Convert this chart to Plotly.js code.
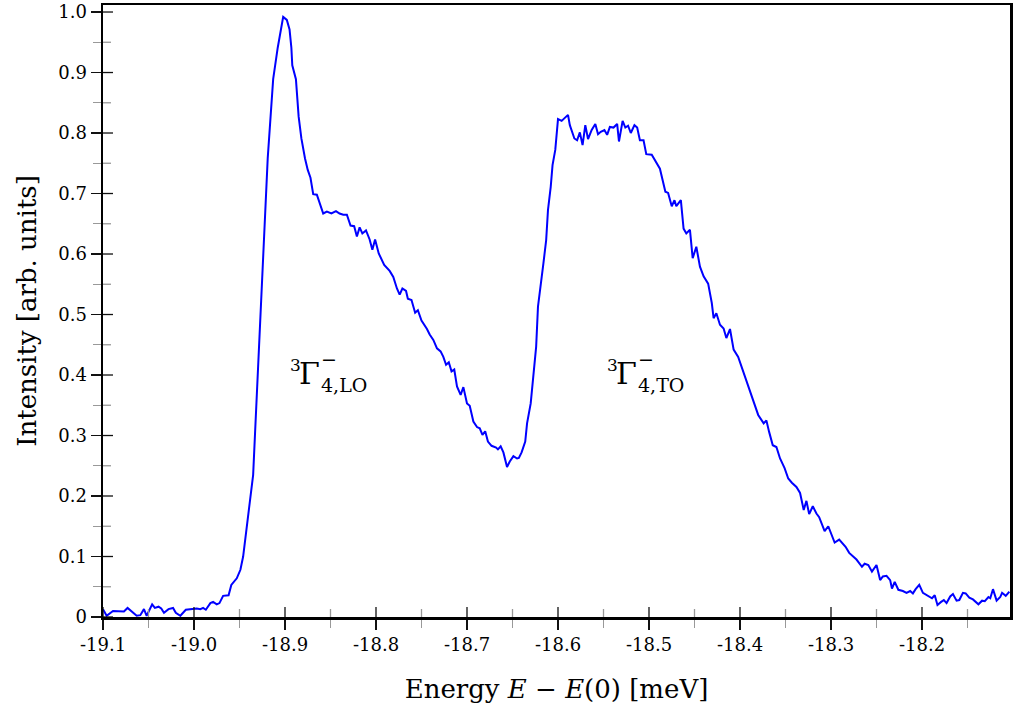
<!DOCTYPE html>
<html><head><meta charset="utf-8">
<script src="https://cdn.plot.ly/plotly-3.0.1.min.js"></script>
<style>html,body{margin:0;padding:0;background:#fff}#chart{width:1013px;height:713px}</style>
</head><body><div id="chart"></div>
<script>
const energy = [
-19.100,-19.096,-19.089,-19.079,-19.077,-19.073,-19.063,-19.059,-19.055,-19.052,
-19.046,-19.043,-19.039,-19.036,-19.033,-19.028,-19.023,-19.020,-19.015,-19.009,
-19.001,-18.997,-18.993,-18.990,-18.987,-18.982,-18.979,-18.975,-18.972,-18.968,
-18.962,-18.959,-18.953,-18.949,-18.946,-18.943,-18.940,-18.935,-18.933,-18.931,
-18.927,-18.923,-18.919,-18.913,-18.908,-18.902,-18.898,-18.895,-18.893,-18.892,
-18.888,-18.885,-18.882,-18.878,-18.875,-18.872,-18.869,-18.865,-18.862,-18.858,
-18.854,-18.849,-18.844,-18.840,-18.836,-18.832,-18.828,-18.824,-18.821,-18.818,
-18.815,-18.811,-18.807,-18.804,-18.801,-18.797,-18.791,-18.785,-18.781,-18.777,
-18.774,-18.771,-18.767,-18.765,-18.761,-18.757,-18.754,-18.750,-18.744,-18.741,
-18.737,-18.733,-18.729,-18.726,-18.723,-18.720,-18.717,-18.714,-18.711,-18.707,
-18.704,-18.700,-18.697,-18.693,-18.689,-18.686,-18.683,-18.680,-18.677,-18.673,
-18.668,-18.666,-18.663,-18.660,-18.656,-18.653,-18.649,-18.645,-18.643,-18.640,
-18.636,-18.634,-18.630,-18.627,-18.624,-18.622,-18.619,-18.616,-18.613,-18.611,
-18.608,-18.606,-18.603,-18.601,-18.600,-18.596,-18.593,-18.589,-18.587,-18.584,
-18.582,-18.579,-18.576,-18.573,-18.570,-18.567,-18.563,-18.559,-18.556,-18.553,
-18.549,-18.546,-18.543,-18.539,-18.535,-18.533,-18.529,-18.526,-18.523,-18.520,
-18.516,-18.513,-18.510,-18.506,-18.503,-18.497,-18.493,-18.488,-18.482,-18.479,
-18.475,-18.472,-18.470,-18.465,-18.462,-18.459,-18.455,-18.452,-18.448,-18.444,
-18.440,-18.435,-18.431,-18.429,-18.426,-18.422,-18.418,-18.415,-18.411,-18.407,
-18.402,-18.396,-18.393,-18.385,-18.380,-18.374,-18.371,-18.368,-18.364,-18.360,
-18.356,-18.351,-18.347,-18.343,-18.338,-18.334,-18.330,-18.327,-18.324,-18.320,
-18.316,-18.313,-18.309,-18.307,-18.303,-18.300,-18.296,-18.291,-18.286,-18.284,
-18.280,-18.276,-18.272,-18.266,-18.263,-18.259,-18.255,-18.250,-18.246,-18.243,
-18.239,-18.235,-18.233,-18.230,-18.226,-18.221,-18.217,-18.213,-18.210,-18.207,
-18.203,-18.199,-18.194,-18.189,-18.186,-18.183,-18.179,-18.176,-18.173,-18.169,
-18.166,-18.162,-18.159,-18.155,-18.152,-18.148,-18.144,-18.138,-18.134,-18.131,
-18.127,-18.125,-18.122,-18.118,-18.114,-18.112,-18.108,-18.104
];
const intensity = [
0.013,0.002,0.010,0.010,0.009,0.015,0.002,0.003,0.013,0.002,
0.021,0.015,0.017,0.014,0.007,0.013,0.015,0.007,0.002,0.012,
0.013,0.014,0.013,0.015,0.012,0.023,0.025,0.021,0.023,0.035,
0.036,0.053,0.064,0.078,0.100,0.135,0.170,0.235,0.301,0.366,
0.497,0.628,0.758,0.889,0.941,0.992,0.987,0.971,0.941,0.912,
0.889,0.827,0.791,0.758,0.739,0.726,0.699,0.698,0.686,0.667,
0.670,0.667,0.671,0.667,0.665,0.665,0.647,0.646,0.629,0.644,
0.634,0.639,0.624,0.607,0.624,0.601,0.582,0.572,0.562,0.543,
0.533,0.543,0.539,0.526,0.524,0.503,0.507,0.490,0.476,0.467,
0.458,0.444,0.439,0.430,0.417,0.421,0.406,0.409,0.381,0.367,
0.380,0.353,0.349,0.323,0.314,0.312,0.301,0.307,0.290,0.283,
0.280,0.277,0.282,0.272,0.248,0.257,0.266,0.262,0.263,0.272,
0.290,0.320,0.353,0.397,0.447,0.513,0.546,0.585,0.623,0.673,
0.711,0.747,0.772,0.800,0.823,0.820,0.824,0.830,0.813,0.800,
0.791,0.788,0.801,0.780,0.813,0.790,0.805,0.815,0.798,0.802,
0.805,0.797,0.810,0.809,0.815,0.786,0.820,0.809,0.812,0.800,
0.813,0.809,0.788,0.788,0.765,0.764,0.753,0.741,0.703,0.701,
0.679,0.689,0.679,0.689,0.642,0.634,0.640,0.593,0.612,0.579,
0.563,0.551,0.519,0.494,0.502,0.483,0.477,0.461,0.476,0.442,
0.430,0.403,0.392,0.353,0.334,0.320,0.325,0.306,0.284,0.281,
0.262,0.246,0.229,0.222,0.215,0.205,0.177,0.192,0.170,0.183,
0.171,0.165,0.148,0.142,0.150,0.138,0.123,0.128,0.119,0.116,
0.106,0.100,0.095,0.083,0.088,0.086,0.075,0.086,0.061,0.067,
0.068,0.061,0.047,0.058,0.045,0.043,0.040,0.043,0.039,0.046,
0.053,0.040,0.036,0.031,0.036,0.020,0.025,0.028,0.023,0.034,
0.038,0.027,0.028,0.040,0.039,0.032,0.029,0.021,0.027,0.026,
0.033,0.031,0.046,0.027,0.033,0.040,0.035,0.042
];
const xTickVals = [-19.1,-19.0,-18.9,-18.8,-18.7,-18.6,-18.5,-18.4,-18.3,-18.2];
const xTickText = ['-19.1','-19.0','-18.9','-18.8','-18.7','-18.6','-18.5','-18.4','-18.3','-18.2'];
const yTickVals = [0,0.1,0.2,0.3,0.4,0.5,0.6,0.7,0.8,0.9,1.0];
const yTickText = ['0','0.1','0.2','0.3','0.4','0.5','0.6','0.7','0.8','0.9','1.0'];
const xTitle = 'Energy <i>E</i> − <i>E</i>(0) [meV]';
const yTitle = 'Intensity [arb. units]';
const peakLabels = [
  {sup:'3', main:'Γ', charge:'−', sub:'4,LO', x:-18.8967},
  {sup:'3', main:'Γ', charge:'−', sub:'4,TO', x:-18.5484}
];

const FONT = 'DejaVu Serif, Liberation Serif, serif';
const xRange = [-19.1, -18.1033];
const yRange = [0, 1.0116];
const MAJOR_C = '#111', MINOR_C = '#999';

// minor tick positions lie halfway between the major ones
const xMinor = xTickVals.map(v => +(v + 0.05).toFixed(3));
const yMinor = yTickVals.slice(0, -1).map(v => +(v + 0.05).toFixed(3));

// inner half of the crossing ticks
const shapes = [];
xTickVals.forEach(v => shapes.push({type:'line', xref:'x', yref:'paper', ysizemode:'pixel', yanchor:0,
  x0:v, x1:v, y0:0, y1:10, line:{color:MAJOR_C, width:1.3}}));
xMinor.forEach(v => shapes.push({type:'line', xref:'x', yref:'paper', ysizemode:'pixel', yanchor:0,
  x0:v, x1:v, y0:0, y1:8, line:{color:MINOR_C, width:1.3}}));
yTickVals.forEach(v => shapes.push({type:'line', yref:'y', xref:'paper', xsizemode:'pixel', xanchor:0,
  y0:v, y1:v, x0:0, x1:10, line:{color:MAJOR_C, width:1.3}}));
yMinor.forEach(v => shapes.push({type:'line', yref:'y', xref:'paper', xsizemode:'pixel', xanchor:0,
  y0:v, y1:v, x0:0, x1:8, line:{color:MINOR_C, width:1.3}}));

const annotations = [];
peakLabels.forEach(p => {
  annotations.push({x:p.x, y:0.416, xref:'x', yref:'y', text:p.sup, showarrow:false,
    xanchor:'left', yanchor:'middle', font:{family:FONT, size:17, color:'#000'}});
  annotations.push({x:p.x, y:0.402, xref:'x', yref:'y', xshift:9, text:p.main, showarrow:false,
    xanchor:'left', yanchor:'middle', font:{family:FONT, size:30, color:'#000'}});
  annotations.push({x:p.x, y:0.426, xref:'x', yref:'y', xshift:31, text:p.charge, showarrow:false,
    xanchor:'left', yanchor:'middle', font:{family:FONT, size:19, color:'#000'}});
  annotations.push({x:p.x, y:0.384, xref:'x', yref:'y', xshift:31, text:p.sub, showarrow:false,
    xanchor:'left', yanchor:'middle', font:{family:FONT, size:19, color:'#000'}});
});

const data = [
  {x:energy, y:intensity, type:'scatter', mode:'lines',
   line:{color:'#0000ff', width:2}, showlegend:false, hoverinfo:'skip'}
];

const layout = {
  width:1013, height:713,
  margin:{l:103, r:3, t:5, b:96},
  paper_bgcolor:'#fff', plot_bgcolor:'#fff',
  showlegend:false,
  font:{family:FONT, color:'#000'},
  xaxis:{
    range:xRange, showgrid:false, zeroline:false,
    showline:true, linecolor:'#000', linewidth:2.5, mirror:true,
    ticks:'outside', ticklen:10, tickwidth:1.3, tickcolor:MAJOR_C,
    tickmode:'array', tickvals:xTickVals, ticktext:xTickText,
    tickfont:{family:FONT, size:18, color:'#000'},
    minor:{tickmode:'array', tickvals:xMinor, ticks:'outside', ticklen:8, tickwidth:1.3, tickcolor:MINOR_C},
    title:{text:xTitle, font:{family:FONT, size:26, color:'#000'}, standoff:26},
    automargin:false
  },
  yaxis:{
    range:yRange, showgrid:false, zeroline:false,
    showline:true, linecolor:'#000', linewidth:2.5, mirror:true,
    ticks:'outside', ticklen:10, tickwidth:1.3, tickcolor:MAJOR_C,
    tickmode:'array', tickvals:yTickVals, ticktext:yTickText,
    tickfont:{family:FONT, size:18, color:'#000'},
    minor:{tickmode:'array', tickvals:yMinor, ticks:'outside', ticklen:8, tickwidth:1.3, tickcolor:MINOR_C},
    title:{text:yTitle, font:{family:FONT, size:26, color:'#000'}, standoff:14},
    automargin:false
  },
  shapes:shapes,
  annotations:annotations
};

Plotly.newPlot('chart', data, layout, {staticPlot:true, displayModeBar:false});
</script>
</body></html>
